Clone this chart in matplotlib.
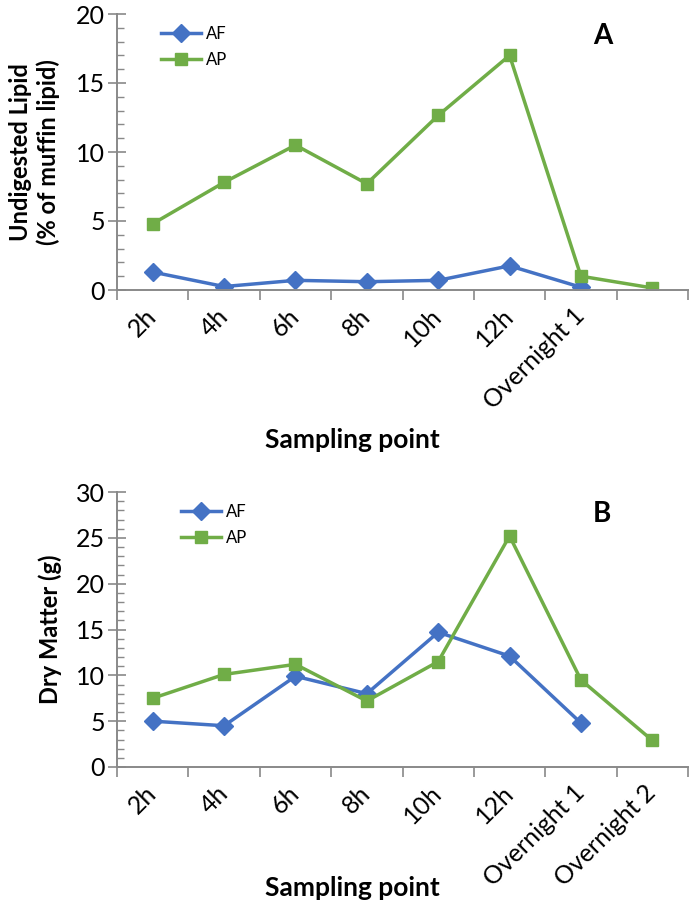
import numpy as np
import matplotlib.pyplot as plt
from matplotlib.ticker import MultipleLocator, FixedLocator

plt.rcParams['font.family'] = ['Lato', 'DejaVu Sans']

# data
categories = ["2h", "4h", "6h", "8h", "10h", "12h", "Overnight 1", "Overnight 2"]
lipid_af = [1.3, 0.25, 0.7, 0.6, 0.7, 1.75, 0.2, np.nan]
lipid_ap = [4.8, 7.8, 10.5, 7.7, 12.65, 17.0, 1.0, 0.15]
dm_af = [5.0, 4.5, 9.9, 8.0, 14.7, 12.1, 4.8, np.nan]
dm_ap = [7.5, 10.1, 11.2, 7.2, 11.5, 25.2, 9.5, 2.9]

BLUE = '#4472C4'
GREEN = '#70AD47'
GREY = '#898989'

W, H = 689, 907
fig = plt.figure(figsize=(W / 100, H / 100), dpi=100)


def px_axes(x0, x1, y0, y1):
    return fig.add_axes([x0 / W, 1 - y1 / H, (x1 - x0) / W, (y1 - y0) / H])


def draw(ax, af, ap, ymax, labels, ylabel, ylab_x, letter, leg_anchor):
    x = np.arange(1, len(categories) + 1)
    ax.plot(x, af, color=BLUE, lw=2.5, marker='D', ms=9, label='AF')
    ax.plot(x, ap, color=GREEN, lw=2.5, marker='s', ms=8, label='AP')
    ax.set_xlim(0.5, len(categories) + 0.5)
    ax.set_ylim(0, ymax)
    for s in ['top', 'right']:
        ax.spines[s].set_visible(False)
    for s in ['left', 'bottom']:
        ax.spines[s].set_color(GREY)
        ax.spines[s].set_linewidth(1.4)
    ax.yaxis.set_major_locator(MultipleLocator(5))
    ax.yaxis.set_minor_locator(MultipleLocator(1))
    ax.tick_params(axis='y', which='major', direction='inout', length=13,
                   width=1.2, color=GREY, labelsize=18, pad=2)
    ax.tick_params(axis='y', which='minor', direction='in', length=5,
                   width=1.0, color=GREY)
    ax.set_xticks(x)
    ax.set_xticklabels(labels, rotation=45, ha='right', va='center',
                       rotation_mode='anchor', fontsize=18)
    ax.xaxis.set_minor_locator(FixedLocator(np.arange(0.5, len(categories) + 1, 1)))
    ax.tick_params(axis='x', which='major', length=0, pad=16)
    ax.tick_params(axis='x', which='minor', direction='out', length=7,
                   width=1.2, color=GREY)
    ax.set_xlabel('Sampling point', fontsize=19, fontweight='bold')
    ax.set_ylabel(ylabel, fontsize=17, fontweight='bold', linespacing=1.2)
    ax.yaxis.set_label_coords(ylab_x, 0.5)
    ax.text(0.85, 0.92, letter, transform=ax.transAxes, fontsize=20,
            fontweight='bold', ha='center', va='center')
    ax.legend(loc='upper left', bbox_to_anchor=leg_anchor, frameon=False,
              fontsize=12, handlelength=2.4, handletextpad=0.3,
              labelspacing=0.6, borderaxespad=0)


ax1 = px_axes(117, 688, 14, 290)
draw(ax1, lipid_af, lipid_ap, 20, categories[:7] + [""],
     'Undigested Lipid\n(% of muffin lipid)', -0.10, 'A', (0.065, 0.98))
ax1.xaxis.set_label_coords(0.413, -0.50)

ax2 = px_axes(117, 688, 492, 767)
draw(ax2, dm_af, dm_ap, 30, categories,
     'Dry Matter (g)', -0.096, 'B', (0.1, 0.98))
ax2.xaxis.set_label_coords(0.413, -0.395)

fig.savefig('out.png', dpi=100)
